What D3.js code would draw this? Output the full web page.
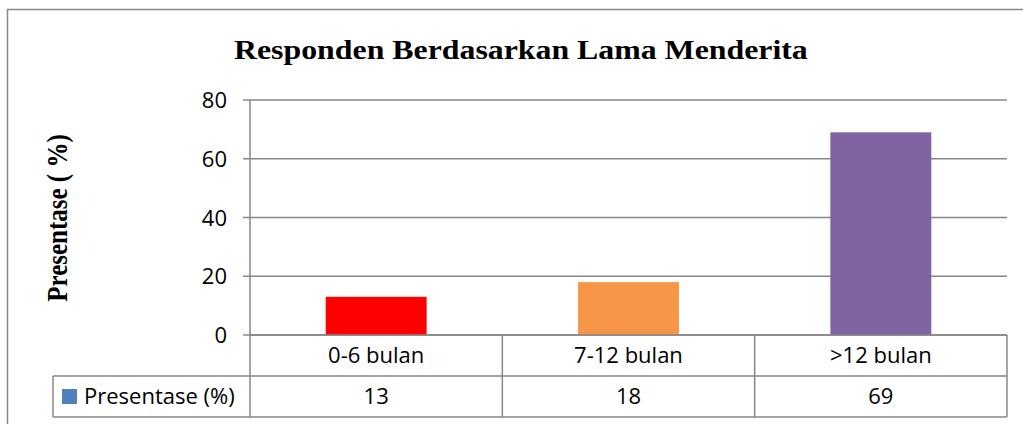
<!DOCTYPE html>
<html>
<head>
<meta charset="utf-8">
<script src="https://cdn.jsdelivr.net/npm/d3@7"></script>
<style>
  body { margin: 0; background: #fff; }
  svg { display: block; }
</style>
</head>
<body>
<svg id="chart" width="1023" height="424"></svg>
<script>
/* Data */
var categories = ["0-6 bulan", "7-12 bulan", ">12 bulan"];
var values = [13, 18, 69];
var barColors = ["#ff0000", "#f79646", "#8064a2"];
var yTicks = [0, 20, 40, 60, 80];
var seriesName = "Presentase (%)";
var title = "Responden Berdasarkan Lama Menderita";
var yLabel = "Presentase ( %)";

var svg = d3.select("#chart");
var lineColor = "#878787";
var tickFont = "'Open Sans', sans-serif";
var serif = "'Liberation Serif', 'Times New Roman', serif";

var plot = { left: 250, right: 1007, top: 100, bottom: 335 };
var rowH = 41;

var x = d3.scaleBand()
    .domain(categories)
    .range([plot.left, plot.right])
    .paddingInner(0)
    .paddingOuter(0);

var y = d3.scaleLinear()
    .domain([0, 80])
    .range([plot.bottom, plot.top]);

/* outer frame (right and bottom edges fall outside the picture) */
svg.append("rect")
    .attr("x", 7.5).attr("y", 9.5)
    .attr("width", 1040).attr("height", 440)
    .attr("fill", "none")
    .attr("stroke", lineColor)
    .attr("stroke-width", 1.5);

/* title - the reference is a bit stretched sideways */
var titleText = svg.append("text")
    .attr("x", 0).attr("y", 0)
    .style("font-family", serif)
    .style("font-weight", "bold")
    .style("font-size", "28px")
    .text(title);
var tw = titleText.node().getComputedTextLength();
titleText.attr("transform", "translate(234,59) scale(" + (574 / tw) + ",1)");

/* y axis label */
svg.append("text")
    .attr("transform", "translate(67,218) scale(1.2,1) rotate(-90)")
    .attr("text-anchor", "middle")
    .style("font-family", serif)
    .style("font-weight", "bold")
    .style("font-size", "25px")
    .text(yLabel);

/* gridlines */
svg.append("g")
    .selectAll("line")
    .data(yTicks)
    .enter().append("line")
    .attr("x1", plot.left - 7)
    .attr("x2", plot.right)
    .attr("y1", function(d) { return y(d); })
    .attr("y2", function(d) { return y(d); })
    .attr("stroke", lineColor)
    .attr("stroke-width", 1.5);

/* y axis tick labels */
var yAxis = d3.axisLeft(y).tickValues(yTicks).tickSize(0).tickPadding(0);
var yg = svg.append("g")
    .attr("transform", "translate(" + 227 + ",0)")
    .call(yAxis);
yg.select(".domain").remove();
yg.selectAll("text")
    .attr("dy", "0.35em")
    .style("font-family", tickFont)
    .style("font-size", "22px")
    .attr("fill", "#000");

/* bars */
var barW = x.bandwidth() * 0.4;
svg.append("g")
    .selectAll("rect")
    .data(values)
    .enter().append("rect")
    .attr("x", function(d, i) { return x(categories[i]) + (x.bandwidth() - barW) / 2; })
    .attr("y", function(d) { return y(d); })
    .attr("width", barW)
    .attr("height", function(d) { return y(0) - y(d); })
    .attr("fill", function(d, i) { return barColors[i]; });

/* data table */
var tableLeft = 53;
var table = svg.append("g");

// horizontal lines
[plot.bottom, plot.bottom + rowH, plot.bottom + rowH * 2].forEach(function(yy, i) {
  table.append("line")
      .attr("x1", i === 0 ? plot.left : tableLeft)
      .attr("x2", plot.right)
      .attr("y1", yy).attr("y2", yy)
      .attr("stroke", lineColor)
      .attr("stroke-width", 1.5);
});
// vertical lines
table.append("line")
    .attr("x1", tableLeft).attr("x2", tableLeft)
    .attr("y1", plot.bottom + rowH).attr("y2", plot.bottom + rowH * 2)
    .attr("stroke", lineColor).attr("stroke-width", 1.5);
var vx = [plot.left].concat(categories.map(function(c) { return x(c) + x.bandwidth(); }));
vx.forEach(function(xx, i) {
  table.append("line")
      .attr("x1", xx).attr("x2", xx)
      .attr("y1", i === 0 ? plot.top : plot.bottom)
      .attr("y2", plot.bottom + rowH * 2)
      .attr("stroke", lineColor)
      .attr("stroke-width", 1.5);
});

// category row
table.selectAll("text.cat")
    .data(categories)
    .enter().append("text")
    .attr("class", "cat")
    .attr("x", function(d) { return x(d) + x.bandwidth() / 2; })
    .attr("y", plot.bottom + rowH / 2)
    .attr("dy", "0.35em")
    .attr("text-anchor", "middle")
    .style("font-family", tickFont)
    .style("font-size", "22px")
    .text(function(d) { return d; });

// values row
table.selectAll("text.val")
    .data(values)
    .enter().append("text")
    .attr("class", "val")
    .attr("x", function(d, i) { return x(categories[i]) + x.bandwidth() / 2; })
    .attr("y", plot.bottom + rowH * 1.5)
    .attr("dy", "0.35em")
    .attr("text-anchor", "middle")
    .style("font-family", tickFont)
    .style("font-size", "22px")
    .text(function(d) { return d; });

// legend key in the table
table.append("rect")
    .attr("x", 62).attr("y", plot.bottom + rowH * 1.5 - 7.5)
    .attr("width", 15).attr("height", 15)
    .attr("fill", "#4f81bd");
table.append("text")
    .attr("x", 84)
    .attr("y", plot.bottom + rowH * 1.5)
    .attr("dy", "0.35em")
    .style("font-family", tickFont)
    .style("font-size", "22px")
    .text(seriesName);
</script>
</body>
</html>
